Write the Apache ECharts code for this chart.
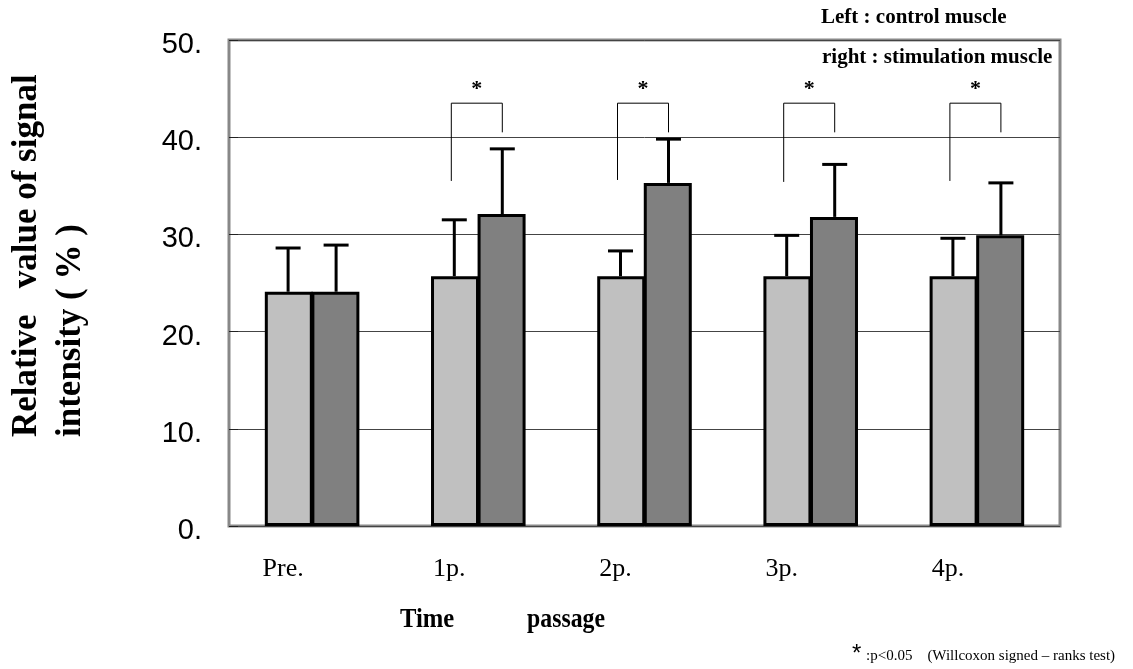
<!DOCTYPE html>
<html>
<head>
<meta charset="utf-8">
<script src="https://cdn.jsdelivr.net/npm/echarts@6/dist/echarts.min.js"></script>
<style>
  html, body { margin: 0; padding: 0; background: #fff; }
  #main { width: 1133px; height: 669px; }
</style>
</head>
<body>
<div id="main"></div>
<script>
// 时间点
var categories = ['Pre.', '1p.', '2p.', '3p.', '4p.'];
// 左: control muscle
var controlMean = [24.1, 25.7, 25.7, 25.7, 25.7];
var controlUpper = [28.6, 31.5, 28.3, 29.9, 29.6];
// 右: stimulation muscle
var stimMean = [24.1, 32.1, 35.3, 31.8, 29.9];
var stimUpper = [28.9, 38.8, 39.8, 37.2, 35.3];
// 显著性括号 (*)
var sigIndex = [1, 2, 3, 4];
var bracketTop = [43.5, 43.5, 43.5, 43.5];
var bracketLeftEnd = [35.5, 35.6, 35.4, 35.5];
var bracketRightEnd = [40.5, 40.5, 40.5, 40.5];
var yTicks = [0, 10, 20, 30, 40, 50];

var BAR_W = 48;

var errData = [];
for (var i = 0; i < categories.length; i++) {
  errData.push([i, controlMean[i], controlUpper[i], -1]);
  errData.push([i, stimMean[i], stimUpper[i], 1]);
}
var bracketData = sigIndex.map(function (c, k) {
  return [c, bracketTop[k], bracketLeftEnd[k], bracketRightEnd[k]];
});

// 误差线
function renderError(params, api) {
  var side = api.value(3);
  var base = api.coord([api.value(0), api.value(1)]);
  var top = api.coord([api.value(0), api.value(2)]);
  var x = base[0] + side * BAR_W / 2;
  var style = { stroke: '#000', lineWidth: 3, fill: 'none' };
  return {
    type: 'group',
    children: [
      { type: 'line', shape: { x1: x, y1: base[1], x2: x, y2: top[1] }, style: style },
      { type: 'line', shape: { x1: x - 12.5, y1: top[1], x2: x + 12.5, y2: top[1] }, style: style }
    ]
  };
}

// 括号 + 星号
function renderBracket(params, api) {
  var c = api.value(0);
  var t = api.coord([c, api.value(1)]);
  var l = api.coord([c, api.value(2)]);
  var r = api.coord([c, api.value(3)]);
  var xl = t[0] - BAR_W / 2 - 3;
  var xr = t[0] + BAR_W / 2;
  var style = { stroke: '#000', lineWidth: 1, fill: null };
  return {
    type: 'group',
    children: [
      { type: 'line', shape: { x1: xl, y1: l[1], x2: xl, y2: t[1] }, style: style },
      { type: 'line', shape: { x1: xl, y1: t[1], x2: xr, y2: t[1] }, style: style },
      { type: 'line', shape: { x1: xr, y1: t[1], x2: xr, y2: r[1] }, style: style },
      { type: 'text', style: { text: '*', x: (xl + xr) / 2, y: t[1] - 3, align: 'center', verticalAlign: 'bottom',
        font: 'bold 22px "Liberation Serif"', fill: '#000' } }
    ]
  };
}

var option = {
  animation: false,
  backgroundColor: '#fff',
  grid: {
    left: 229, right: 73, top: 40, bottom: 143,
    show: true, borderColor: '#888', borderWidth: 3, backgroundColor: 'transparent'
  },
  xAxis: {
    type: 'category',
    data: categories,
    axisLine: { show: false },
    axisTick: { show: false },
    axisLabel: {
      margin: 30,
      padding: [0, 58, 0, 0],
      color: '#000',
      fontFamily: 'Liberation Serif',
      fontSize: 26
    }
  },
  yAxis: {
    type: 'value',
    min: 0, max: 50, interval: 10,
    axisLine: { show: false },
    axisTick: { show: true, inside: true, length: 9, lineStyle: { color: '#222', width: 1 } },
    splitLine: { show: true, lineStyle: { color: '#444', width: 1 } },
    axisLabel: {
      margin: 27,
      color: '#000',
      formatter: function (v) { return yTicks.indexOf(v) >= 0 ? '{t|' + v + '.}' : ''; },
      rich: {
        t: { fontFamily: 'Liberation Sans', fontSize: 29, color: '#000', padding: [10, 0, 0, 0] }
      }
    }
  },
  series: [
    {
      name: 'control', type: 'bar', data: controlMean, barWidth: BAR_W, barGap: '-3%',
      itemStyle: { color: '#c0c0c0', borderColor: '#000', borderWidth: 3 }
    },
    {
      name: 'stimulation', type: 'bar', data: stimMean, barWidth: BAR_W, barGap: '-3%',
      itemStyle: { color: '#808080', borderColor: '#000', borderWidth: 3 }
    },
    { type: 'custom', renderItem: renderError, data: errData, z: 1 },
    { type: 'custom', renderItem: renderBracket, data: bracketData, z: 3 }
  ],
  graphic: [
    { type: 'text', x: 27, y: 437, rotation: Math.PI / 2,
      style: { text: 'Relative   value of signal', font: 'bold 35px "Liberation Serif"', fill: '#000',
        align: 'left', verticalAlign: 'middle' } },
    { type: 'text', x: 71, y: 437, rotation: Math.PI / 2,
      style: { text: 'intensity ( % )', font: 'bold 35px "Liberation Serif"', fill: '#000',
        align: 'left', verticalAlign: 'middle' } },
    { type: 'text', x: 400, y: 620, scaleX: 0.88,
      style: { text: 'Time', font: 'bold 28px "Liberation Serif"', fill: '#000', align: 'left', verticalAlign: 'middle' } },
    { type: 'text', x: 527, y: 620, scaleX: 0.85,
      style: { text: 'passage', font: 'bold 28px "Liberation Serif"', fill: '#000', align: 'left', verticalAlign: 'middle' } },
    { type: 'text', x: 821, y: 18,
      style: { text: 'Left : control muscle', font: 'bold 21px "Liberation Serif"', fill: '#000', align: 'left', verticalAlign: 'middle' } },
    { type: 'text', x: 822, y: 58,
      style: { text: 'right : stimulation muscle', font: 'bold 21px "Liberation Serif"', fill: '#000', align: 'left', verticalAlign: 'middle' } },
    { type: 'text', x: 852, y: 654,
      style: { text: '*', font: '24px "Liberation Sans"', fill: '#000', align: 'left', verticalAlign: 'middle' } },
    { type: 'text', x: 866, y: 656,
      style: { text: ':p<0.05    (Willcoxon signed \u2013 ranks test)', font: '15px "Liberation Serif"', fill: '#000', align: 'left', verticalAlign: 'middle' } }
  ]
};

var chart = echarts.init(document.getElementById('main'));
chart.setOption(option);
</script>
</body>
</html>
